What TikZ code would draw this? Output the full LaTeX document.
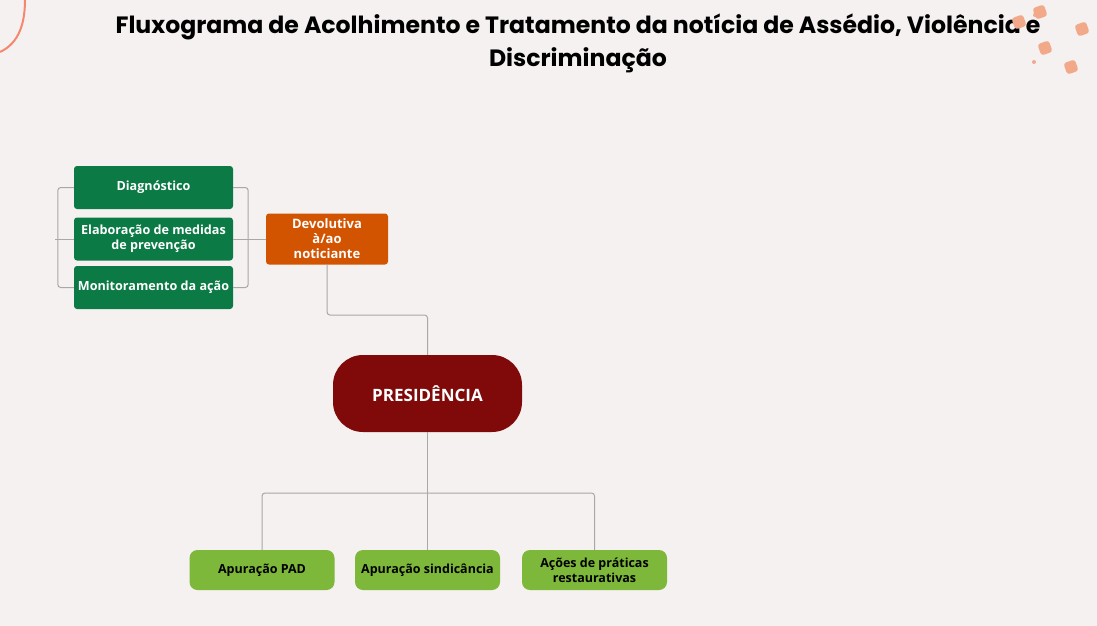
\documentclass[tikz,border=0pt]{standalone}
\usepackage{fontspec}
\setmainfont{Open Sans}
\newfontfamily\titlefont{Poppins}
\definecolor{bgcol}{HTML}{F5F1F0}
\definecolor{darkgreen}{HTML}{0B7A45}
\definecolor{orangebox}{HTML}{D35400}
\definecolor{winered}{HTML}{800A0A}
\definecolor{lightgreen}{HTML}{7DB83A}
\definecolor{linecol}{HTML}{A8A8A8}
\definecolor{dotcol}{HTML}{F2A98A}
\tikzset{
  greenbox/.style={fill=darkgreen, text=white, rounded corners=3pt, minimum width=159pt, minimum height=43pt, align=center, font=\bfseries\fontsize{12.6}{15}\selectfont},
  limebox/.style={fill=lightgreen, text=black, rounded corners=8pt, minimum width=145pt, minimum height=40pt, align=center, font=\bfseries\fontsize{12.5}{15}\selectfont},
  link/.style={draw=linecol, line width=1pt, rounded corners=3pt},
  dotbox/.style={fill=dotcol, rounded corners=3pt, rotate=20, minimum size=12pt, inner sep=0pt}
}
\begin{document}
\begin{tikzpicture}[x=1pt, y=-1pt]
		\fill[bgcol] (0,0) rectangle (1097,626);
		\useasboundingbox (0,0) rectangle (1097,626);
		% title
		\node[font=\titlefont\bfseries\fontsize{23.6}{33}\selectfont, align=center] (title) at (578,43) {Fluxograma de Acolhimento e Tratamento da notícia de Assédio, Violência e\\Discriminação};
		% decorations
		\draw[dotcol!80!red, line width=2pt] (25,0) .. controls (25,30) and (15,45) .. (0,52);
		\foreach \px/\py in {1040/12, 1082/29, 1045/48, 1071/67, 1019/22}
			\node[dotbox] at (\px,\py) {};
		\fill[dotcol] (1035,15) circle (2) (1034,62) circle (2);
		% left group
		\node[greenbox] (diag) at (153.5,187.5) {Diagnóstico};
		\node[greenbox] (elab) at (153.5,239) {Elaboração de medidas\\de prevenção};
		\node[greenbox] (moni) at (153.5,287.5) {Monitoramento da ação};
		\node[fill=orangebox, text=white, rounded corners=3pt, minimum width=122pt, minimum height=51pt, align=center, font=\bfseries\fontsize{13}{15}\selectfont] (devo) at (327,239) {Devolutiva\\à/ao\\noticiante};
		\node[fill=winered, text=white, rounded corners=30pt, minimum width=189pt, minimum height=77pt, font=\bfseries\fontsize{17}{20}\selectfont] (pres) at (427.5,393.5) {PRESIDÊNCIA};
		\node[limebox] (pad) at (262,570) {Apuração PAD};
		\node[limebox] (sind) at (427.5,570) {Apuração sindicância};
		\node[limebox] (acoes) at (594.5,570) {Ações de práticas\\restaurativas};
		% connectors
		\coordinate (lend) at (55,239);
		\draw[link] (diag.west) -- ++(-16,0) |- (moni.west);
		\draw[link] (diag.east) -- ++(15,0) |- (moni.east);
		\draw[link] (lend) -- (elab.west);
		\draw[link] (elab.east) -- (devo.west);
		\draw[link] (devo.south) |- (427.5,315) -- (pres.north);
		\draw[link] (pres.south) -- (sind.north);
		\draw[link] (pad.north) |- (427.5,493) -| (acoes.north);
\end{tikzpicture}
\end{document}
